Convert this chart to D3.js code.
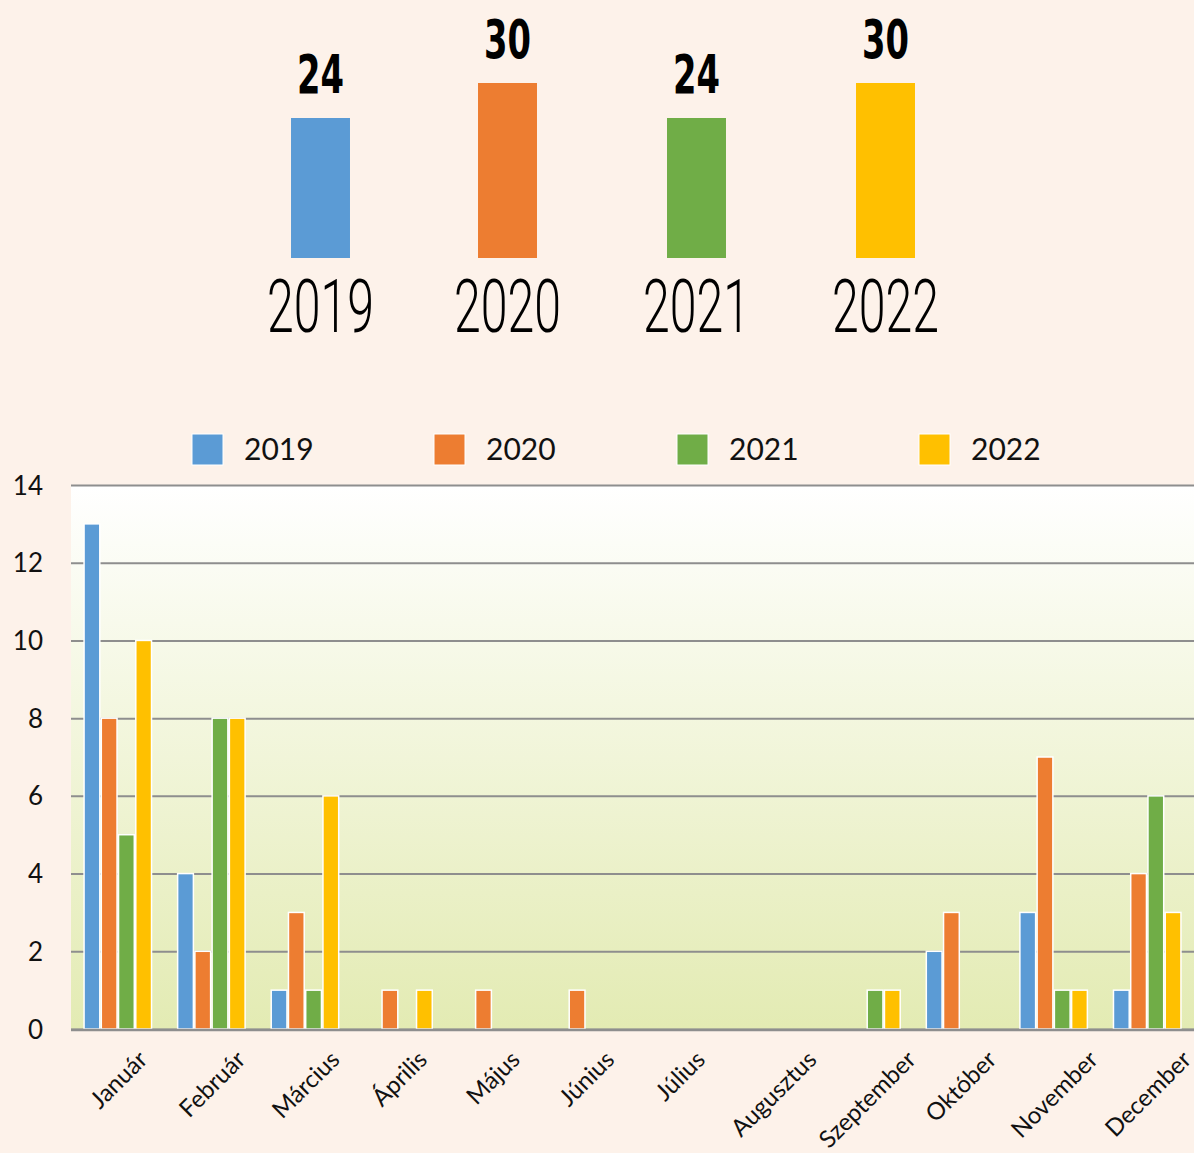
<!DOCTYPE html>
<html><head><meta charset="utf-8">
<script src="https://cdn.jsdelivr.net/npm/d3@7"></script>
<style>html,body{margin:0;padding:0;background:#fdf2ea;}svg{display:block;}</style>
</head><body>
<svg id="c" width="1194" height="1153"></svg>
<script>
const years = ["2019","2020","2021","2022"];
const totals = [24,30,24,30];
const months = ["Január","Február","Március","Április","Május","Június","Július","Augusztus","Szeptember","Október","November","December"];
const v2019 = [13,4,1,0,0,0,0,0,0,2,3,1];
const v2020 = [8,2,3,1,1,1,0,0,0,3,7,4];
const v2021 = [5,8,1,0,0,0,0,0,1,0,1,6];
const v2022 = [10,8,6,1,0,0,0,0,1,0,1,3];
const yTicks = [0,2,4,6,8,10,12,14];
const colors = ["#5b9bd5","#ed7d31","#70ad47","#ffc000"];
const series = [v2019,v2020,v2021,v2022];

(function(){
const svg = d3.select("#c");
svg.append("rect").attr("width",1194).attr("height",1153).attr("fill","#fdf2ea");

// ---- top summary chart ----
const xt = d3.scaleBand().domain(years).range([224,980]).paddingInner(0.688).paddingOuter(0.344);
const yt = d3.scaleLinear().domain([0,30]).range([258,83]);
const gTop = svg.append("g");
gTop.selectAll("rect").data(years).join("rect")
  .attr("x",d=>xt(d)+(d==="2019"?2:0)).attr("width",xt.bandwidth())
  .attr("y",(d,i)=>yt(totals[i])).attr("height",(d,i)=>yt(0)-yt(totals[i]))
  .attr("fill",(d,i)=>colors[i]);
gTop.selectAll("text.val").data(years).join("text").attr("class","val")
  .attr("x",d=>xt(d)+(d==="2019"?2:0)+xt.bandwidth()/2).attr("y",(d,i)=>yt(totals[i])-25)
  .attr("text-anchor","middle")
  .attr("font-family","'Liberation Sans Narrow','DejaVu Sans Condensed','Liberation Sans',sans-serif")
  .attr("font-weight","bold").attr("font-size",53).attr("fill","#000")
  .attr("textLength",47).attr("lengthAdjust","spacingAndGlyphs")
  .text((d,i)=>totals[i]);
gTop.selectAll("text.yr").data(years).join("text").attr("class","yr")
  .attr("x",d=>xt(d)+(d==="2019"?2:0)+xt.bandwidth()/2).attr("y",332)
  .attr("text-anchor","middle")
  .attr("font-family","Roboto,'Liberation Sans',sans-serif")
  .attr("font-weight",300).attr("font-size",75).attr("fill","#000")
  .attr("textLength",107).attr("lengthAdjust","spacingAndGlyphs")
  .text(d=>d);

// ---- legend ----
const legX = [192,434,677,919];
const leg = svg.append("g");
years.forEach((yr,i)=>{
  leg.append("rect").attr("x",legX[i]).attr("y",434).attr("width",31).attr("height",31)
    .attr("fill",colors[i]).attr("stroke","#fff").attr("stroke-width",1);
  leg.append("text").attr("x",legX[i]+52).attr("y",460)
    .attr("font-family","Lato,'Noto Sans',sans-serif").attr("font-size",30).attr("fill","#111")
    .text(yr);
});

// ---- main chart ----
const L=71, R=1194, T=485, B=1029;
const defs = svg.append("defs");
const grad = defs.append("linearGradient").attr("id","bg").attr("x1",0).attr("y1",0).attr("x2",0).attr("y2",1);
grad.append("stop").attr("offset","0%").attr("stop-color","#ffffff");
grad.append("stop").attr("offset","100%").attr("stop-color","#e3ebb3");
svg.append("rect").attr("x",L).attr("y",T).attr("width",R-L).attr("height",B-T).attr("fill","url(#bg)");

const x0 = d3.scaleBand().domain(months).range([L,R]).paddingInner(0.263).paddingOuter(0.1315);
const x1 = d3.scaleBand().domain(d3.range(4)).range([0,x0.bandwidth()]);
const y = d3.scaleLinear().domain([0,14]).range([B,T]);

const grid = svg.append("g").attr("transform",`translate(${L},0)`)
  .call(d3.axisLeft(y).tickValues(yTicks).tickSize(-(R-L)).tickFormat(""));
grid.select(".domain").remove();
grid.selectAll(".tick line").attr("stroke","#8e8e8e").attr("stroke-width",2);

const bars = svg.append("g");
months.forEach((m,mi)=>{
  series.forEach((s,si)=>{
    if(s[mi]>0){
      bars.append("rect")
        .attr("x",x0(m)+x1(si)+0.75).attr("width",x1.bandwidth()-1.5)
        .attr("y",y(s[mi])).attr("height",y(0)-y(s[mi]))
        .attr("fill",colors[si]).attr("stroke","#fff").attr("stroke-width",1.5);
    }
  });
});
svg.append("line").attr("x1",L).attr("x2",R).attr("y1",B+1).attr("y2",B+1)
  .attr("stroke","#8e8e8e").attr("stroke-width",2.5);

// y labels
const ya = svg.append("g").attr("transform","translate(43,0)")
  .call(d3.axisLeft(y).tickValues(yTicks).tickSize(0).tickPadding(0));
ya.select(".domain").remove();
ya.selectAll("text").attr("font-family","Lato,'Noto Sans',sans-serif").attr("font-size",26).attr("fill","#111").attr("dy","0.35em");

// month labels
const fs = 24;
const ml = svg.append("g");
months.forEach(m=>{
  const cx = x0(m)+x0.bandwidth()/2;
  const t = ml.append("text")
    .attr("font-family","Lato,'Noto Sans',sans-serif").attr("font-size",fs).attr("fill","#111")
    .attr("text-anchor","middle").attr("dominant-baseline","central").text(m);
  const len = t.node().getComputedTextLength();
  const cy = 1048 + (len + fs*0.75)*0.3536;
  t.attr("transform",`translate(${cx},${cy}) rotate(-45)`);
});
})();
</script>
</body></html>
